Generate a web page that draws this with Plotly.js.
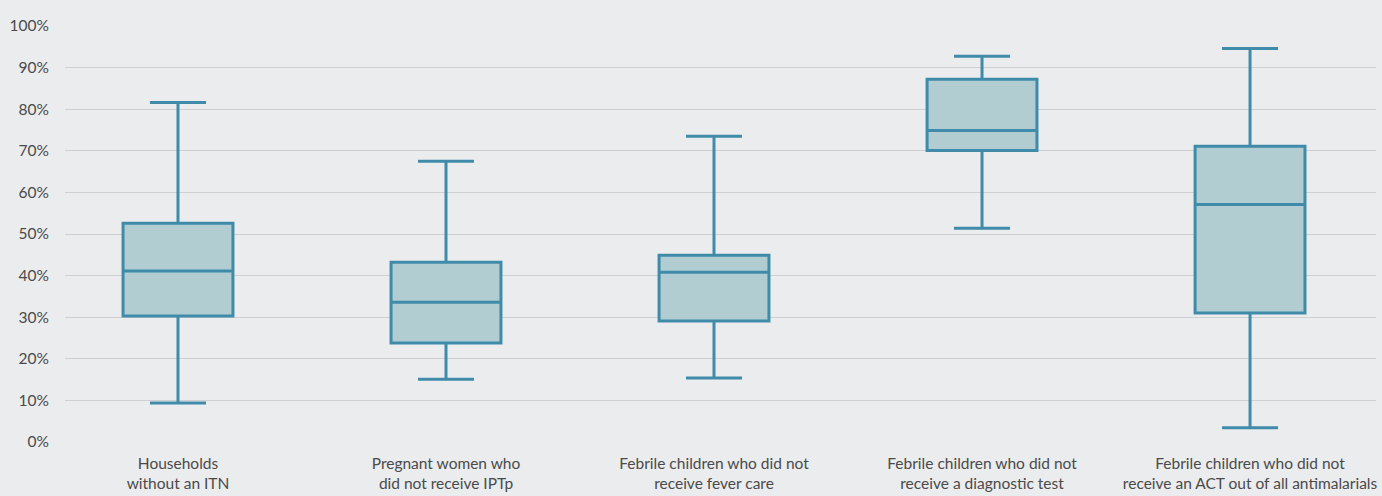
<!DOCTYPE html>
<html>
<head>
<meta charset="utf-8">
<script src="https://cdn.plot.ly/plotly-3.0.1.min.js"></script>
<style>
  html, body { margin: 0; padding: 0; background: #ebecee; }
  #chart { width: 1382px; height: 496px; }
</style>
</head>
<body>
<div id="chart"></div>
<script>
const categories = [
  "Households<br>without an ITN",
  "Pregnant women who<br>did not receive IPTp",
  "Febrile children who did not<br>receive fever care",
  "Febrile children who did not<br>receive a diagnostic test",
  "Febrile children who did not<br>receive an ACT out of all antimalarials"
];
const lowerWhisker = [9.4, 15.1, 15.4, 51.4, 3.4];
const q1Values     = [30.3, 23.8, 29.1, 70.1, 31.0];
const medianValues = [41.1, 33.6, 40.8, 74.9, 57.1];
const q3Values     = [52.6, 43.2, 44.9, 87.2, 71.1];
const upperWhisker = [81.6, 67.5, 73.5, 92.7, 94.6];
const yTicks = [0, 10, 20, 30, 40, 50, 60, 70, 80, 90, 100];

const trace = {
  type: "box",
  x: categories,
  q1: q1Values,
  median: medianValues,
  q3: q3Values,
  lowerfence: lowerWhisker,
  upperfence: upperWhisker,
  boxpoints: false,
  width: 0.41,
  whiskerwidth: 0.51,
  fillcolor: "#b1cdd1",
  line: { color: "#3f8ba9", width: 3 },
  hoverinfo: "skip",
  showlegend: false
};

const layout = {
  width: 1382,
  height: 496,
  paper_bgcolor: "#ebecee",
  plot_bgcolor: "#ebecee",
  margin: { l: 65, r: 6, t: 26, b: 54 },
  font: { family: "Lato, Open Sans, sans-serif", size: 15.5, color: "#4a4a4a" },
  xaxis: {
    type: "category",
    range: [-0.4216, 4.47],
    showgrid: false,
    zeroline: false,
    showline: false,
    ticks: "",
    ticklabelstandoff: 10,
    tickfont: { size: 15.5, color: "#4a4a4a" },
    fixedrange: true
  },
  yaxis: {
    range: [0, 100],
    tickvals: yTicks,
    ticktext: yTicks.map(v => v + "%"),
    showgrid: true,
    gridcolor: "#cfd0d2",
    gridwidth: 1,
    zeroline: false,
    showline: false,
    ticks: "",
    ticklabelstandoff: 15,
    tickfont: { size: 15.5, color: "#4a4a4a" },
    fixedrange: true
  }
};

Plotly.newPlot("chart", [trace], layout, { displayModeBar: false, staticPlot: true });
</script>
</body>
</html>
